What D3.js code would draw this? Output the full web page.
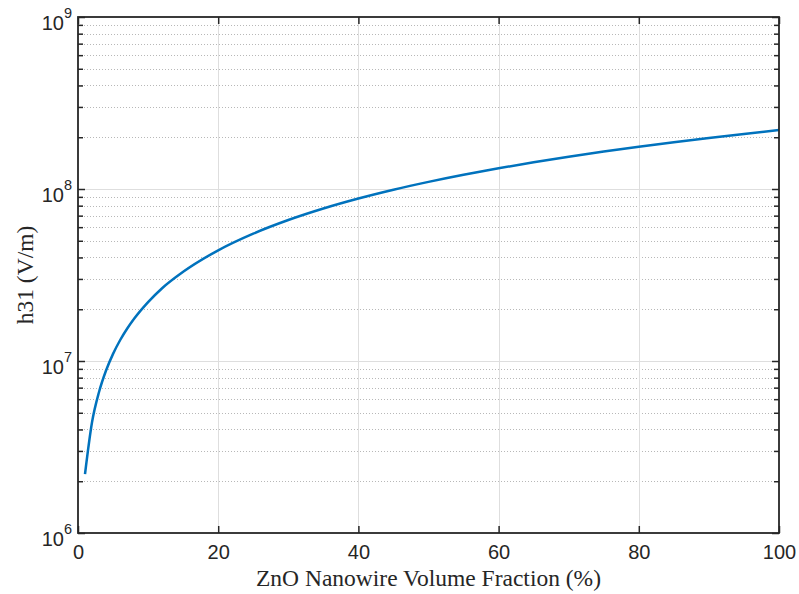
<!DOCTYPE html>
<html>
<head>
<meta charset="utf-8">
<script src="https://cdn.jsdelivr.net/npm/d3@7"></script>
<style>
  html, body { margin: 0; padding: 0; background: #fff; }
  svg { display: block; }
  .serif { font-family: "Liberation Serif", "Times New Roman", Times, "DejaVu Serif", serif; }
  .sans { font-family: "Liberation Sans", Arial, Helvetica, sans-serif; }
</style>
</head>
<body>
<svg id="chart" width="799" height="594"></svg>
<script>
// Data
const volumeFraction = [1, 2, 3, 4, 5, 6, 7, 8, 10, 12, 15, 20, 25, 30, 35, 40, 45, 50, 55, 60, 65, 70, 75, 80, 85, 90, 95, 100];
const h31 = [2.2e6, 4.4e6, 6.6e6, 8.8e6, 1.1e7, 1.32e7, 1.54e7, 1.76e7, 2.2e7, 2.65e7, 3.3e7, 4.4e7, 5.5e7, 6.6e7, 7.7e7, 8.8e7, 9.9e7, 1.1e8, 1.21e8, 1.32e8, 1.43e8, 1.54e8, 1.65e8, 1.76e8, 1.87e8, 1.98e8, 2.09e8, 2.2e8];
const xTicks = [0, 20, 40, 60, 80, 100];
const yDecades = [6, 7, 8, 9];
const xLabel = "ZnO Nanowire Volume Fraction (%)";
const yLabel = "h31 (V/m)";

const L = 78, R = 779, T = 17, B = 533;
const svg = d3.select("#chart");
const x = d3.scaleLinear().domain([0, 100]).range([L, R]);
const y = d3.scaleLog().domain([1e6, 1e9]).range([B, T]);

const minorVals = [];
yDecades.slice(0, -1).forEach(e => { for (let m = 2; m <= 9; m++) minorVals.push(m * Math.pow(10, e)); });
const majorVals = yDecades.map(e => Math.pow(10, e));

// minor grid (dotted)
svg.append("g").selectAll("line").data(minorVals).join("line")
  .attr("x1", L).attr("x2", R)
  .attr("y1", d => Math.round(y(d)) + 0.5).attr("y2", d => Math.round(y(d)) + 0.5)
  .attr("stroke", "#b8b8b8").attr("stroke-width", 1).attr("stroke-dasharray", "1,2");

// major grid
svg.append("g").selectAll("line").data(majorVals.slice(1, -1)).join("line")
  .attr("x1", L).attr("x2", R)
  .attr("y1", d => Math.round(y(d)) + 0.5).attr("y2", d => Math.round(y(d)) + 0.5)
  .attr("stroke", "#dedede").attr("stroke-width", 1);
svg.append("g").selectAll("line").data(xTicks.slice(1, -1)).join("line")
  .attr("y1", T).attr("y2", B)
  .attr("x1", d => Math.round(x(d)) + 0.5).attr("x2", d => Math.round(x(d)) + 0.5)
  .attr("stroke", "#dedede").attr("stroke-width", 1);

// curve
const line = d3.line().x((d, i) => x(volumeFraction[i])).y(d => y(d)).curve(d3.curveMonotoneX);
svg.append("path").datum(h31).attr("d", line)
  .attr("fill", "none").attr("stroke", "#0072BD").attr("stroke-width", 2.5);

const axisColor = "#262626";
const xAxisB = d3.axisBottom(x).tickValues(xTicks).tickSize(-7).tickFormat(d3.format("d")).tickPadding(12);
const gxb = svg.append("g").attr("transform", `translate(0,${B})`).call(xAxisB);
const gxt = svg.append("g").attr("transform", `translate(0,${T})`).call(d3.axisTop(x).tickValues(xTicks).tickSize(-7).tickFormat(""));
const gyl = svg.append("g").attr("transform", `translate(${L},0)`).call(d3.axisLeft(y).tickValues(majorVals).tickSize(-7).tickFormat(""));
const gyr = svg.append("g").attr("transform", `translate(${R},0)`).call(d3.axisRight(y).tickValues(majorVals).tickSize(-7).tickFormat(""));
const gylm = svg.append("g").attr("transform", `translate(${L},0)`).call(d3.axisLeft(y).tickValues(minorVals).tickSize(-5).tickFormat(""));
const gyrm = svg.append("g").attr("transform", `translate(${R},0)`).call(d3.axisRight(y).tickValues(minorVals).tickSize(-5).tickFormat(""));
[gxb, gxt, gyl, gyr, gylm, gyrm].forEach(g => {
  g.attr("font-family", null);
  g.select(".domain").remove();
  g.selectAll(".tick line").attr("stroke", axisColor).attr("stroke-width", 1.5);
});
gxb.selectAll(".tick text")
  .attr("class", "sans").attr("fill", axisColor).attr("font-size", 20);

// box
svg.append("rect").attr("x", L).attr("y", T).attr("width", R - L).attr("height", B - T)
  .attr("fill", "none").attr("stroke", axisColor).attr("stroke-width", 1.8);

// y tick labels 10^n
const yl = svg.append("g").selectAll("text").data(yDecades).join("text")
  .attr("class", "sans")
  .attr("x", L - 6).attr("y", d => y(Math.pow(10, d)) + 12.5)
  .attr("text-anchor", "end").attr("fill", axisColor);
yl.append("tspan").attr("font-size", 20).text("10");
yl.append("tspan").attr("font-size", 14.5).attr("dy", -12).text(d => d);

// axis labels
svg.append("text").attr("class", "serif").attr("x", (L + R) / 2).attr("y", 586).attr("text-anchor", "middle")
  .attr("fill", axisColor).attr("font-size", 23.5)
  .text(xLabel);
svg.append("text").attr("class", "serif").attr("transform", `translate(33,${(T + B) / 2}) rotate(-90)`).attr("text-anchor", "middle")
  .attr("fill", axisColor).attr("font-size", 23.5)
  .text(yLabel);
</script>
</body>
</html>
